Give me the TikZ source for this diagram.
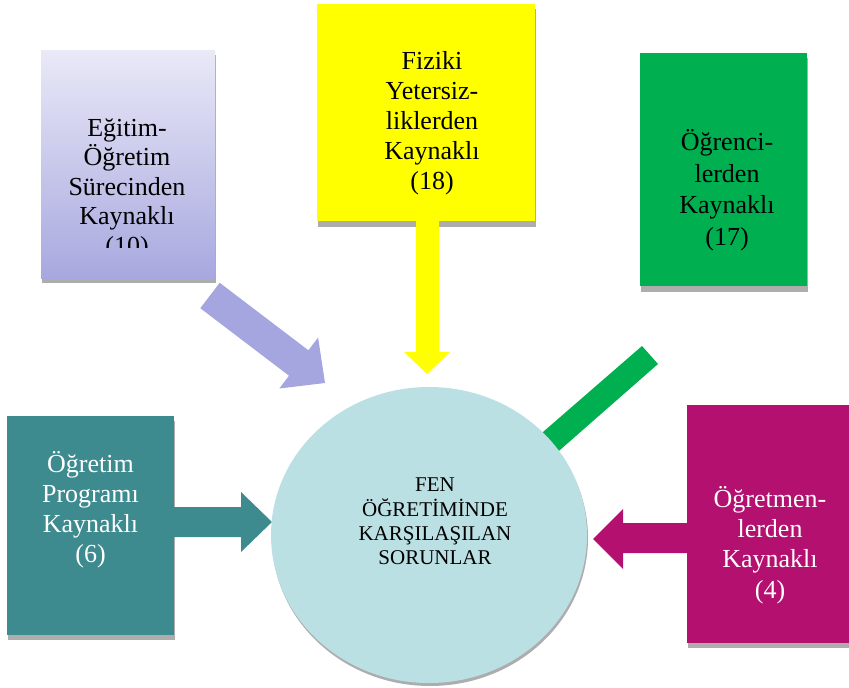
\documentclass[tikz,border=0pt]{standalone}
\usepackage{fontspec}
\setmainfont{Liberation Serif}
\usetikzlibrary{shapes.geometric}
\definecolor{lavtop}{HTML}{E9E9F7}
\definecolor{lavbot}{HTML}{A8A8E0}
\definecolor{lavarrow}{HTML}{A5A5DF}
\definecolor{yel}{HTML}{FFFF00}
\definecolor{grn}{HTML}{00AF50}
\definecolor{teal}{HTML}{3D8B8F}
\definecolor{mag}{HTML}{B3106F}
\definecolor{circ}{HTML}{BAE0E4}
\definecolor{shadowgray}{HTML}{ADADAD}
\begin{document}
\begin{tikzpicture}[x=1pt,y=-1pt,
  boxshape/.style={draw=none,rectangle,inner sep=0pt,anchor=north west},
  boxtxt/.style={align=center,inner sep=0pt,font=\fontsize{26}{30}\selectfont},
  circtxt/.style={align=center,inner sep=0pt,font=\fontsize{21}{24.3}\selectfont},
  shad/.style={fill=shadowgray,draw=none}]
\useasboundingbox (0,0) rectangle (849,688);
% shadows
\fill[shad] (42,55) rectangle (216,283);
\fill[shad] (318,9) rectangle (536,227);
\fill[shad] (641,58) rectangle (808,292);
\fill[shad] (8,421) rectangle (175,640);
\fill[shad] (688,410) rectangle (849,648);
% boxes
\node[boxshape,top color=lavtop,bottom color=lavbot,minimum width=174pt,minimum height=228pt] (lav) at (41,50) {};
\node[boxshape,fill=yel,minimum width=218pt,minimum height=217pt] (yb) at (317,4) {};
\node[boxshape,fill=grn,minimum width=167pt,minimum height=233pt] (gb) at (640,53) {};
\node[boxshape,fill=teal,minimum width=167pt,minimum height=219pt] (tb) at (7,416) {};
\node[boxshape,fill=mag,minimum width=162pt,minimum height=238pt] (mb) at (687,405) {};
% texts
\begin{scope}
\clip (41,50) rectangle (215,247);
\node[boxtxt,font=\fontsize{26}{29.5}\selectfont] (lavt) at (127,189) {Eğitim-\\Öğretim\\Sürecinden\\Kaynaklı\\(10)};
\end{scope}
\node[boxtxt] (ybt) at (432,123) {Fiziki\\Yetersiz-\\liklerden\\Kaynaklı\\(18)};
\node[boxtxt,font=\fontsize{26}{31.5}\selectfont] (gbt) at (727,190) {Öğrenci-\\lerden\\Kaynaklı\\(17)};
\node[boxtxt,text=white] (tbt) at (90.5,510) {Öğretim\\Programı\\Kaynaklı\\(6)};
\node[boxtxt,text=white,font=\fontsize{26}{30.3}\selectfont] (mbt) at (770,545) {Öğretmen-\\lerden\\Kaynaklı\\(4)};
% arrows
\fill[lavarrow] (219.7,282.8) -- (308.4,350.3) -- (318.1,337.5) -- (325,383) -- (279.3,388.5) -- (289,375.7) -- (200.3,308.2) -- cycle;
\fill[yel] (416,221) -- (439,221) -- (439,352) -- (450,352) -- (427,374) -- (404,352) -- (416,352) -- cycle;
\fill[grn] (642,346) -- (658,364) -- (544,464) -- (528,445) -- cycle;
\fill[teal] (174,507) -- (241,507) -- (241,492) -- (272,522) -- (241,552) -- (241,537) -- (174,537) -- cycle;
\fill[mag] (687,523) -- (623,523) -- (623,509) -- (593,539) -- (623,569) -- (623,553) -- (687,553) -- cycle;
% circle
\fill[shadowgray] (430,538) ellipse [x radius=158pt, y radius=148pt];
\node[ellipse,fill=circ,draw=none,minimum width=316pt,minimum height=296pt,inner sep=0pt] (c) at (429,535) {};
\node[circtxt] (ct) at (435,521.5) {FEN\\ÖĞRETİMİNDE\\KARŞILAŞILAN\\SORUNLAR};
\end{tikzpicture}
\end{document}
